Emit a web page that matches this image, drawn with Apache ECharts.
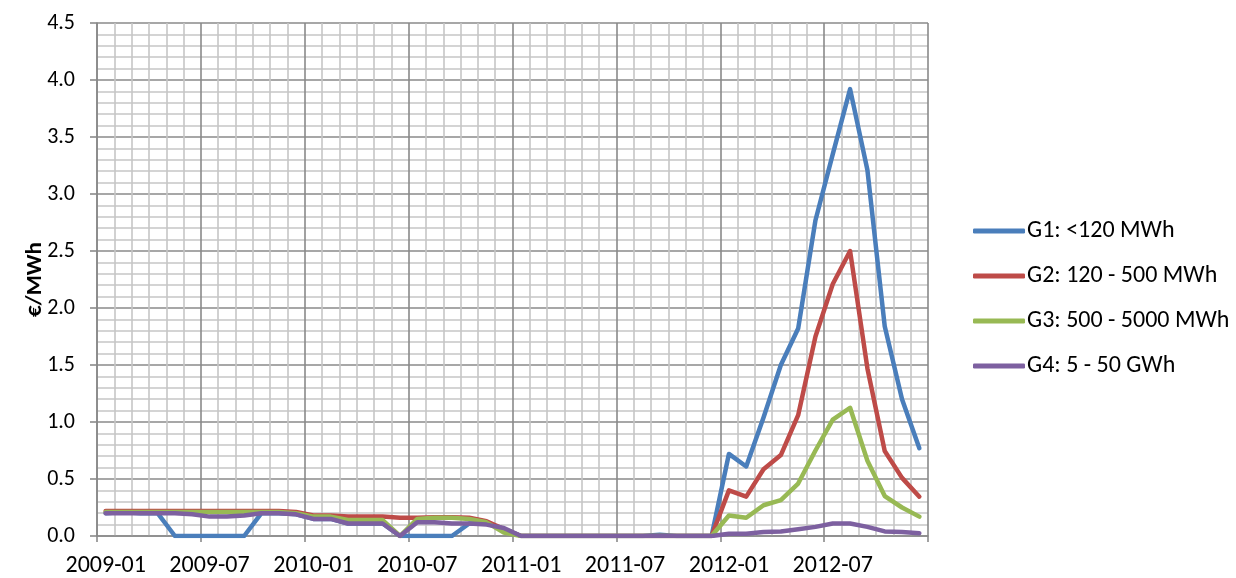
<!DOCTYPE html>
<html>
<head>
<meta charset="utf-8">
<script src="https://cdn.jsdelivr.net/npm/echarts@6/dist/echarts.min.js"></script>
<style>
  html, body { margin: 0; padding: 0; background: #fff; }
  #chart { width: 1236px; height: 578px; }
</style>
</head>
<body>
<div id="chart"></div>
<script>
// Monthly categories 2009-01 .. 2012-12
const months = [];
for (let y = 2009; y <= 2012; y++) {
  for (let m = 1; m <= 12; m++) months.push(y + '-' + String(m).padStart(2, '0'));
}

const seriesNames = ['G1: <120 MWh', 'G2: 120 - 500 MWh', 'G3: 500 - 5000 MWh', 'G4: 5 - 50 GWh'];

// €/MWh per month
const g1 = [0.20, 0.21, 0.20, 0.20, 0.00, 0.00, 0.00, 0.00, 0.00, 0.20, 0.20, 0.19,
            0.15, 0.15, 0.11, 0.11, 0.11, 0.00, 0.00, 0.00, 0.00, 0.11, 0.11, 0.06,
            0.00, 0.00, 0.00, 0.00, 0.00, 0.00, 0.00, 0.00, 0.01, 0.00, 0.00, 0.00,
            0.72, 0.61, 1.04, 1.50, 1.82, 2.77, 3.35, 3.92, 3.21, 1.84, 1.20, 0.77];
const g2 = [0.22, 0.22, 0.22, 0.22, 0.22, 0.22, 0.22, 0.22, 0.22, 0.22, 0.22, 0.21,
            0.18, 0.18, 0.17, 0.17, 0.17, 0.16, 0.16, 0.165, 0.165, 0.16, 0.13, 0.06,
            0.00, 0.00, 0.00, 0.00, 0.00, 0.00, 0.00, 0.00, 0.00, 0.00, 0.00, 0.00,
            0.40, 0.345, 0.585, 0.71, 1.06, 1.75, 2.21, 2.50, 1.47, 0.745, 0.51, 0.345];
const g3 = [0.21, 0.21, 0.21, 0.21, 0.21, 0.21, 0.21, 0.21, 0.21, 0.21, 0.21, 0.20,
            0.17, 0.17, 0.14, 0.14, 0.14, 0.00, 0.15, 0.16, 0.16, 0.15, 0.12, 0.03,
            0.00, 0.00, 0.00, 0.00, 0.00, 0.00, 0.00, 0.00, 0.00, 0.00, 0.00, 0.00,
            0.18, 0.16, 0.27, 0.315, 0.46, 0.75, 1.02, 1.125, 0.66, 0.35, 0.25, 0.17];
const g4 = [0.20, 0.20, 0.20, 0.20, 0.20, 0.19, 0.17, 0.17, 0.18, 0.20, 0.20, 0.19,
            0.15, 0.15, 0.11, 0.11, 0.11, 0.00, 0.12, 0.12, 0.11, 0.11, 0.10, 0.07,
            0.00, 0.00, 0.00, 0.00, 0.00, 0.00, 0.00, 0.00, 0.00, 0.00, 0.00, 0.00,
            0.02, 0.02, 0.035, 0.04, 0.06, 0.08, 0.11, 0.11, 0.08, 0.04, 0.035, 0.025];

const colors = ['#4A7EBB', '#BE4B48', '#98B954', '#7D60A0'];
const font = 'Carlito, Lato, "Liberation Sans", sans-serif';
const fontSize = 24;
const majorGrid = '#8a8a8a';
const minorGrid = '#c6c6c6';

const chart = echarts.init(document.getElementById('chart'));

const mkLine = (name, data, color) => ({
  name, type: 'line', data, xAxisIndex: 0,
  showSymbol: false, symbol: 'none', smooth: false,
  lineStyle: { color, width: 4.5, join: 'round', cap: 'round' },
  itemStyle: { color },
  animation: false
});

chart.setOption({
  animation: false,
  grid: { left: 97, right: 308, top: 23, bottom: 41, containLabel: false },
  legend: {
    orient: 'vertical', left: 968, top: 214,
    icon: 'roundRect', itemWidth: 52, itemHeight: 5, itemGap: 21,
    textStyle: { fontFamily: font, fontSize: fontSize, color: '#000', padding: [0, 0, 0, -3] },
    data: seriesNames
  },
  xAxis: [
    {
      // month categories: carries the series and the labels under each half-year
      type: 'category', data: months, boundaryGap: true, position: 'bottom',
      axisLine: { show: false }, axisTick: { show: false }, splitLine: { show: false },
      axisLabel: { interval: 5, fontFamily: font, fontSize: fontSize, color: '#000', margin: 18 }
    },
    {
      // month boundaries: ticks and the vertical grid
      type: 'value', position: 'bottom', min: 0, max: months.length, interval: 6,
      axisLine: { show: true, lineStyle: { color: majorGrid, width: 1.6 } },
      axisTick: { show: true, length: 6, lineStyle: { color: majorGrid, width: 1.6 } },
      axisLabel: { show: false },
      splitLine: { show: true, lineStyle: { color: majorGrid, width: 1.6 } },
      minorTick: { show: false, splitNumber: 6 },
      minorSplitLine: { show: true, lineStyle: { color: minorGrid, width: 1.6 } }
    }
  ],
  yAxis: {
    type: 'value', min: 0, max: 4.5, interval: 0.5,
    name: '€/MWh', nameLocation: 'middle', nameGap: 50, nameRotate: 90, nameMoveOverlap: false,
    nameTextStyle: { fontFamily: font, fontSize: 23, fontWeight: 'bold', color: '#000' },
    axisLine: { show: true, lineStyle: { color: majorGrid, width: 1.6 } },
    axisTick: { show: true, length: 7, lineStyle: { color: majorGrid, width: 1.6 } },
    axisLabel: { fontFamily: font, fontSize: 22, color: '#000', margin: 22, formatter: v => v.toFixed(1) },
    splitLine: { show: true, lineStyle: { color: majorGrid, width: 1.6 } },
    minorTick: { show: false, splitNumber: 5 },
    minorSplitLine: { show: true, lineStyle: { color: minorGrid, width: 1.6 } }
  },
  series: [
    mkLine(seriesNames[0], g1, colors[0]),
    mkLine(seriesNames[1], g2, colors[1]),
    mkLine(seriesNames[2], g3, colors[2]),
    mkLine(seriesNames[3], g4, colors[3])
  ]
});
</script>
</body>
</html>
